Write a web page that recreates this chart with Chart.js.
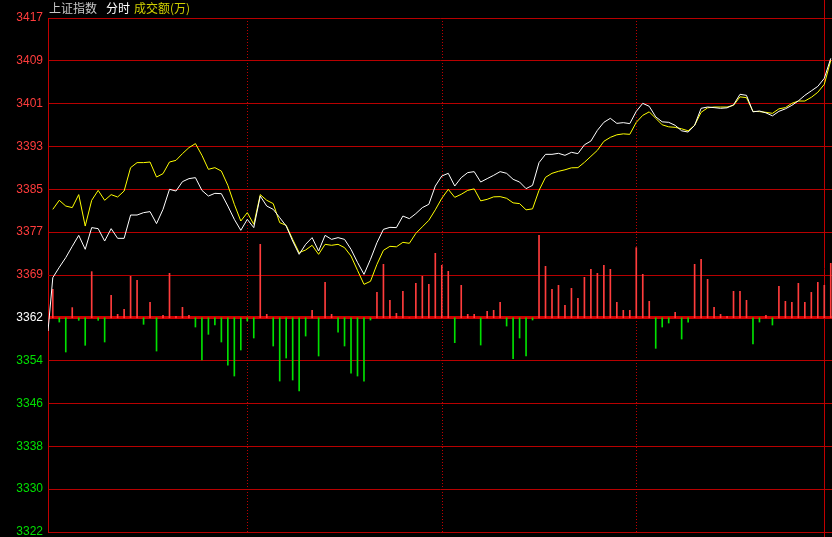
<!DOCTYPE html>
<html>
<head>
<meta charset="utf-8">
<script src="https://cdn.jsdelivr.net/npm/chart.js@4"></script>
<style>
html, body { margin: 0; padding: 0; background: #000; }
#myChart { display: block; }
</style>
</head>
<body>
<canvas id="myChart" width="832" height="537"></canvas>
<script>
// 中軸價與刻度間距
var centerPrice = 3362.0;
var priceStep = 7.92;
// 刻度標籤 (由上到下)
var tickLabels = ['3417', '3409', '3401', '3393', '3385', '3377', '3369', '3362', '3354', '3346', '3338', '3330', '3322'];
var tickSteps = [7, 6, 5, 4, 3, 2, 1, 0, -1, -2, -3, -4, -5];

// 開盤價
var openPrice = 3359.56;
// 白線 (指數)
var whiteLine = [
  3369.43, 3371.34, 3373.13, 3375.22, 3377.25, 3374.67, 3378.68, 3378.49, 3376.20, 3378.49,
  3376.70, 3376.70, 3381.01, 3381.01, 3381.45, 3381.64, 3379.42, 3382.06, 3385.76, 3385.45,
  3387.18, 3387.74, 3387.92, 3385.57, 3384.52, 3385.02, 3384.96, 3382.67, 3380.21, 3378.18,
  3380.21, 3378.68, 3384.52, 3382.67, 3382.06, 3380.53, 3378.97, 3376.20, 3373.74, 3375.59,
  3376.83, 3374.35, 3377.25, 3376.51, 3376.83, 3376.51, 3374.67, 3372.26, 3370.04, 3372.82,
  3375.90, 3378.36, 3378.73, 3378.68, 3380.82, 3380.34, 3381.27, 3382.38, 3382.99, 3386.37,
  3388.22, 3388.72, 3386.37, 3387.92, 3388.85, 3389.03, 3387.11, 3387.74, 3388.35, 3389.03,
  3388.72, 3387.61, 3387.11, 3385.89, 3386.50, 3390.70, 3392.23, 3392.23, 3392.42, 3392.05,
  3392.60, 3392.36, 3393.99, 3394.69, 3396.67, 3398.15, 3398.89, 3397.96, 3398.09, 3397.91,
  3400.18, 3401.66, 3401.11, 3399.16, 3398.24, 3398.15, 3397.59, 3396.58, 3396.35, 3397.59,
  3400.74, 3400.98, 3400.87, 3400.74, 3400.83, 3401.38, 3403.33, 3403.14, 3400.09, 3400.24,
  3399.90, 3399.35, 3400.18, 3400.64, 3401.29, 3402.12, 3403.14, 3403.97, 3404.80, 3406.28,
  3409.98
];
// 黃線 (領先指標)
var yellowLine = [
  3382.06, 3383.73, 3382.67, 3382.38, 3384.78, 3378.97, 3383.73, 3385.57, 3383.73, 3384.78,
  3384.34, 3385.45, 3389.77, 3390.70, 3390.70, 3390.81, 3388.03, 3388.66, 3390.81, 3391.12,
  3392.36, 3393.47, 3394.21, 3392.05, 3389.46, 3389.77, 3389.14, 3386.50, 3382.99, 3379.90,
  3381.45, 3379.29, 3384.78, 3383.73, 3383.12, 3379.60, 3379.10, 3376.51, 3374.06, 3374.54,
  3375.41, 3373.74, 3375.59, 3375.41, 3375.59, 3374.98, 3373.43, 3370.78, 3368.19, 3368.75,
  3371.89, 3374.48, 3375.22, 3375.13, 3375.96, 3375.78, 3377.62, 3378.83, 3380.03, 3381.97,
  3384.10, 3385.76, 3384.28, 3384.84, 3385.57, 3385.85, 3383.63, 3383.91, 3384.37, 3384.41,
  3384.10, 3383.26, 3383.12, 3381.97, 3382.15, 3385.57, 3387.98, 3388.72, 3389.09, 3389.37,
  3389.74, 3389.77, 3390.75, 3391.86, 3392.97, 3394.64, 3395.37, 3395.84, 3396.02, 3395.93,
  3398.15, 3399.44, 3400.09, 3398.89, 3397.69, 3397.32, 3397.22, 3396.95, 3396.58, 3397.59,
  3400.00, 3400.83, 3400.98, 3400.98, 3400.98, 3401.29, 3402.86, 3402.71, 3400.18, 3400.13,
  3400.00, 3399.81, 3400.64, 3400.87, 3401.66, 3402.09, 3402.09, 3402.77, 3403.70, 3405.17,
  3409.61
];
// 紅綠柱 (相對中軸)
var barDelta = [
  5.27, -0.78, -6.32, 1.89, -0.46, -5.08, 8.54, -0.46, -4.47, 4.16,
  0.65, 1.57, 7.67, 6.93, -1.20, 2.87, -6.14, 0.46, 8.23, 0.28,
  1.94, 0.46, -1.70, -7.80, -3.05, -1.33, -4.47, -8.73, -10.76, -5.95,
  -0.59, -3.73, 13.59, 0.65, -5.21, -11.69, -7.43, -11.50, -13.53, -3.37,
  1.39, -7.06, 6.56, 0.65, -2.63, -5.21, -10.21, -10.76, -11.69, -0.41,
  4.71, 9.89, 3.24, 0.83, 4.90, 0, 6.38, 7.67, 6.19, 11.93,
  9.71, 8.60, -4.59, 6.01, 0.65, 0.65, -5.03, 1.20, 1.39, 2.87,
  -1.52, -7.54, -3.73, -7.06, -0.41, 15.25, 9.52, 5.27, 6.01, 2.31,
  5.45, 3.61, 7.49, 8.97, 8.23, 9.71, 8.97, 2.87, 1.39, 1.39,
  12.98, 8.04, 3.05, -5.64, -1.70, -0.96, 1.02, -3.92, -0.78, 9.89,
  10.82, 7.12, 1.94, 0.65, 0.28, 4.90, 4.90, 3.24, -4.84, -0.78,
  0.46, -1.33, 5.82, 3.05, 2.87, 6.38, 2.87, 4.71, 6.56, 6.01,
  10.08
];
// 時間分隔線位置與游標
var dotLines = [30, 60, 90];
var cursorIndex = 119;
// 標題
var titleParts = [
  { text: '上证指数', color: '#c8c8c8', gap: 9 },
  { text: '分时', color: '#ffffff', gap: 4 },
  { text: '成交额(万)', color: '#d0d000', gap: 0 }
];

var xMin = -0.74;
var xMax = 120.19;

var whitePoints = [{ x: xMin, y: openPrice }].concat(whiteLine.map(function (v, i) { return { x: i, y: v }; }));
var yellowPoints = yellowLine.map(function (v, i) { return { x: i, y: v }; });
var barPoints = barDelta.map(function (d, i) { return { x: i, y: [centerPrice, centerPrice + d] }; });

var overlay = {
  id: 'overlay',
  beforeDatasetsDraw: function (chart) {
    var ctx = chart.ctx, a = chart.chartArea, xs = chart.scales.x;
    ctx.save();
    ctx.strokeStyle = '#c00000';
    ctx.lineWidth = 1;
    ctx.setLineDash([1, 2]);
    dotLines.forEach(function (i) {
      var px = Math.round(xs.getPixelForValue(i)) + 0.5;
      ctx.beginPath();
      ctx.moveTo(px, a.top);
      ctx.lineTo(px, a.bottom);
      ctx.stroke();
    });
    ctx.setLineDash([]);
    var cx = Math.round(xs.getPixelForValue(cursorIndex)) + 0.5;
    ctx.beginPath();
    ctx.moveTo(cx, 0);
    ctx.lineTo(cx, chart.height);
    ctx.stroke();
    ctx.restore();
  },
  afterDraw: function (chart) {
    var ctx = chart.ctx;
    ctx.save();
    ctx.font = '12px "Noto Sans CJK SC"';
    ctx.textBaseline = 'middle';
    var x = chart.chartArea.left + 1;
    titleParts.forEach(function (p) {
      ctx.fillStyle = p.color;
      ctx.fillText(p.text, x, 8);
      x += ctx.measureText(p.text).width + p.gap;
    });
    ctx.restore();
  }
};

var ctx = document.getElementById('myChart').getContext('2d');
var chart = new Chart(ctx, {
  data: {
    datasets: [{
      type: 'line',
      label: '指数',
      data: whitePoints,
      borderColor: '#ffffff',
      borderWidth: 1,
      pointRadius: 0,
      tension: 0,
      order: 1
    }, {
      type: 'line',
      label: '领先',
      data: yellowPoints,
      borderColor: '#ffff00',
      borderWidth: 1,
      pointRadius: 0,
      tension: 0,
      order: 2
    }, {
      type: 'bar',
      label: '红绿柱',
      data: barPoints,
      backgroundColor: barDelta.map(function (d) { return d >= 0 ? '#ff3c3c' : '#00e000'; }),
      barThickness: 1,
      order: 3
    }]
  },
  options: {
    responsive: false,
    animation: false,
    layout: { padding: { top: 18, bottom: 5, left: 0, right: 0 } },
    plugins: { legend: { display: false }, tooltip: { enabled: false } },
    scales: {
      x: {
        type: 'linear',
        display: false,
        offset: false,
        min: xMin,
        max: xMax
      },
      y: {
        min: centerPrice - 5 * priceStep,
        max: centerPrice + 7 * priceStep,
        afterBuildTicks: function (scale) {
          scale.ticks = tickSteps.map(function (s) { return { value: centerPrice + s * priceStep }; });
        },
        afterFit: function (scale) {
          scale.width = 48;
          scale.paddingTop = 0;
          scale.paddingBottom = 0;
        },
        border: { display: true, color: '#c00000', width: 1 },
        grid: {
          drawTicks: false,
          color: function (c) { return c.index === 7 ? '#d00000' : '#b80000'; },
          lineWidth: function (c) { return c.index === 7 ? 3 : 1; }
        },
        ticks: {
          padding: 5,
          font: { family: 'Liberation Sans', size: 12 },
          color: function (c) { return c.index < 7 ? '#ff3c3c' : (c.index === 7 ? '#ffffff' : '#00e000'); },
          callback: function (v, i) { return tickLabels[i]; }
        }
      }
    }
  },
  plugins: [overlay]
});
</script>
</body>
</html>
